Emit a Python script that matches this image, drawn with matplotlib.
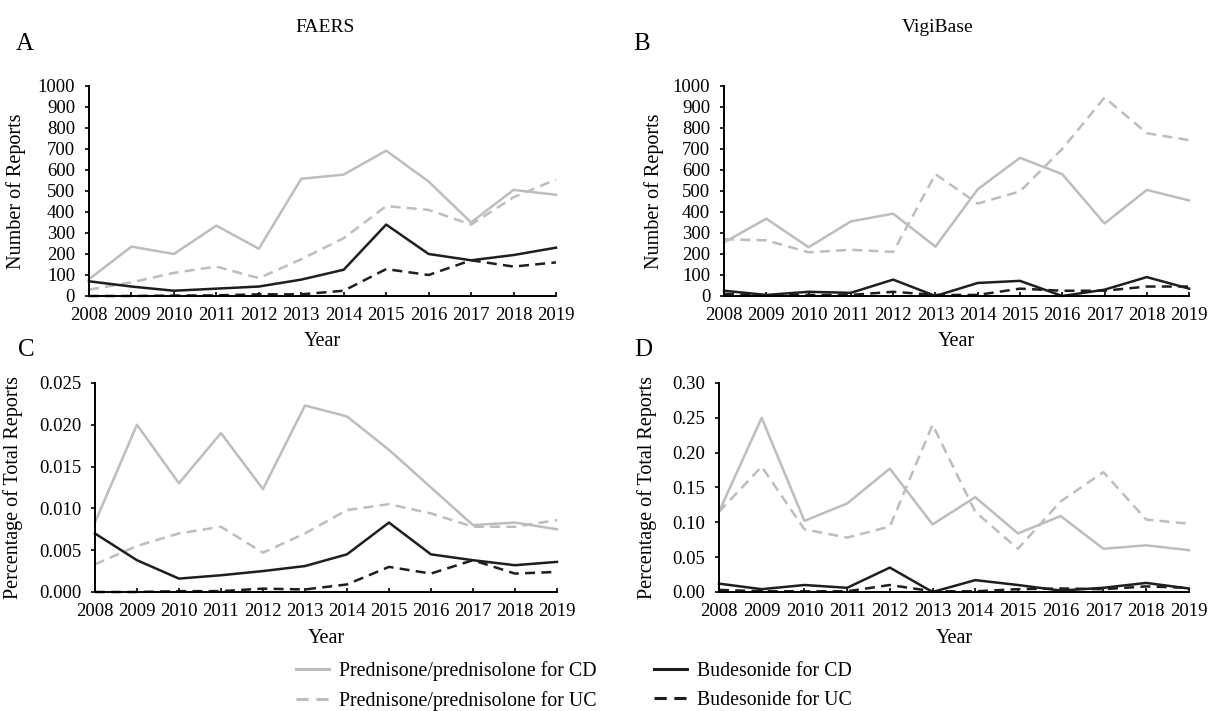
import matplotlib
matplotlib.use("Agg")
import matplotlib.pyplot as plt
from matplotlib.lines import Line2D

plt.rcParams['font.family'] = ['Liberation Serif', 'DejaVu Serif']

years = list(range(2008, 2020))

# A: FAERS, number of reports
faers_n_pred_cd = [80, 235, 200, 335, 225, 558, 578, 692, 545, 350, 505, 482]
faers_n_pred_uc = [30, 65, 110, 140, 85, 175, 275, 428, 410, 340, 470, 555]
faers_n_bud_cd = [70, 45, 25, 35, 45, 78, 125, 340, 200, 170, 195, 230]
faers_n_bud_uc = [0, 0, 2, 3, 8, 8, 25, 128, 100, 170, 140, 160]

# B: VigiBase, number of reports
vigi_n_pred_cd = [255, 368, 232, 355, 392, 235, 508, 658, 580, 345, 505, 455]
vigi_n_pred_uc = [270, 265, 208, 220, 210, 580, 440, 498, 700, 945, 775, 742]
vigi_n_bud_cd = [25, 5, 20, 15, 78, 0, 62, 72, 0, 30, 90, 35]
vigi_n_bud_uc = [10, 2, 5, 5, 20, 5, 5, 35, 25, 25, 45, 45]

# C: FAERS, percentage of total reports
faers_p_pred_cd = [0.0083, 0.0200, 0.0130, 0.0190, 0.0123, 0.0223, 0.0210, 0.0170, 0.0125, 0.0080, 0.0083, 0.0075]
faers_p_pred_uc = [0.0033, 0.0055, 0.0070, 0.0078, 0.0047, 0.0070, 0.0098, 0.0105, 0.0094, 0.0078, 0.0078, 0.0086]
faers_p_bud_cd = [0.0070, 0.0038, 0.0016, 0.0020, 0.0025, 0.0031, 0.0045, 0.0083, 0.0045, 0.0038, 0.0032, 0.0036]
faers_p_bud_uc = [0.0000, 0.0000, 0.0001, 0.0001, 0.0004, 0.0003, 0.0009, 0.0030, 0.0022, 0.0038, 0.0022, 0.0024]

# D: VigiBase, percentage of total reports
vigi_p_pred_cd = [0.115, 0.250, 0.102, 0.127, 0.177, 0.097, 0.136, 0.084, 0.109, 0.062, 0.067, 0.060]
vigi_p_pred_uc = [0.115, 0.180, 0.090, 0.078, 0.094, 0.240, 0.115, 0.062, 0.130, 0.172, 0.104, 0.098]
vigi_p_bud_cd = [0.012, 0.004, 0.010, 0.006, 0.035, 0.000, 0.017, 0.010, 0.002, 0.006, 0.013, 0.005]
vigi_p_bud_uc = [0.003, 0.001, 0.001, 0.001, 0.010, 0.001, 0.001, 0.004, 0.005, 0.004, 0.008, 0.006]

labels = ['Prednisone/prednisolone for CD', 'Prednisone/prednisolone for UC',
          'Budesonide for CD', 'Budesonide for UC']

grey = '#bdbdbd'
black = '#1e1e1e'
dash = (0, (4, 2.5))
styles = [(grey, '-'), (grey, dash), (black, '-'), (black, dash)]
tick_fs = 13.5
label_fs = 14.5

fig = plt.figure(figsize=(12.11, 7.11), dpi=100)


def panel(rect, series, ylim, yticks, fmt, ylabel, ylab_x, xlab_y):
    ax = fig.add_axes(rect)
    for s, (c, ls) in zip(series, styles):
        ax.plot(years, s, color=c, linestyle=ls, lw=1.8, clip_on=False, zorder=3)
    ax.set_xlim(2008, 2019)
    ax.set_ylim(*ylim)
    ax.set_xticks(years)
    ax.set_yticks(yticks)
    ax.set_yticklabels([fmt.format(v) for v in yticks])
    for sp in ['top', 'right']:
        ax.spines[sp].set_visible(False)
    for sp in ['left', 'bottom']:
        ax.spines[sp].set_linewidth(1.4)
        ax.spines[sp].set_color('black')
        ax.spines[sp].set_zorder(4)
    ax.tick_params(axis='y', direction='out', length=3, width=1.2, labelsize=tick_fs, pad=7)
    ax.tick_params(axis='x', direction='in', length=3, width=1.2, labelsize=tick_fs, pad=8)
    ax.set_xlabel('Year', fontsize=label_fs)
    ax.xaxis.set_label_coords(0.5, xlab_y)
    ax.set_ylabel(ylabel, fontsize=label_fs)
    ax.yaxis.set_label_coords(ylab_x, 0.5)
    return ax


panel([0.0735, 0.5837, 0.3856, 0.2954],
      [faers_n_pred_cd, faers_n_pred_uc, faers_n_bud_cd, faers_n_bud_uc],
      (0, 1000), list(range(0, 1001, 100)), '{:d}', 'Number of Reports', -0.135, -0.172)
panel([0.5979, 0.5837, 0.3840, 0.2954],
      [vigi_n_pred_cd, vigi_n_pred_uc, vigi_n_bud_cd, vigi_n_bud_uc],
      (0, 1000), list(range(0, 1001, 100)), '{:d}', 'Number of Reports', -0.129, -0.172)
panel([0.0784, 0.1674, 0.3815, 0.2940],
      [faers_p_pred_cd, faers_p_pred_uc, faers_p_bud_cd, faers_p_bud_uc],
      (0, 0.025), [0, 0.005, 0.010, 0.015, 0.020, 0.025], '{:.3f}',
      'Percentage of Total Reports', -0.156, -0.178)
panel([0.5937, 0.1674, 0.3880, 0.2940],
      [vigi_p_pred_cd, vigi_p_pred_uc, vigi_p_bud_cd, vigi_p_bud_uc],
      (0, 0.30), [0, 0.05, 0.10, 0.15, 0.20, 0.25, 0.30], '{:.2f}',
      'Percentage of Total Reports', -0.132, -0.178)

fig.text(325 / 1211, 1 - 28 / 711, 'FAERS', ha='center', va='center', fontsize=14)
fig.text(938 / 1211, 1 - 28 / 711, 'VigiBase', ha='center', va='center', fontsize=14)
for letter, x, y in [('A', 25, 44), ('B', 642, 44), ('C', 26, 350), ('D', 643, 350)]:
    fig.text(x / 1211, 1 - y / 711, letter, ha='center', va='center', fontsize=18)

handles = [Line2D([], [], color=c, linestyle=ls, lw=2.2) for c, ls in styles]
fig.legend(handles, labels, ncol=2, loc='center', bbox_to_anchor=(574 / 1211, 1 - 686 / 711),
           frameon=False, fontsize=14.3, handlelength=1.65, handletextpad=0.5,
           columnspacing=2.9, labelspacing=0.5, borderpad=0.2)

fig.savefig('out.png', dpi=100)
